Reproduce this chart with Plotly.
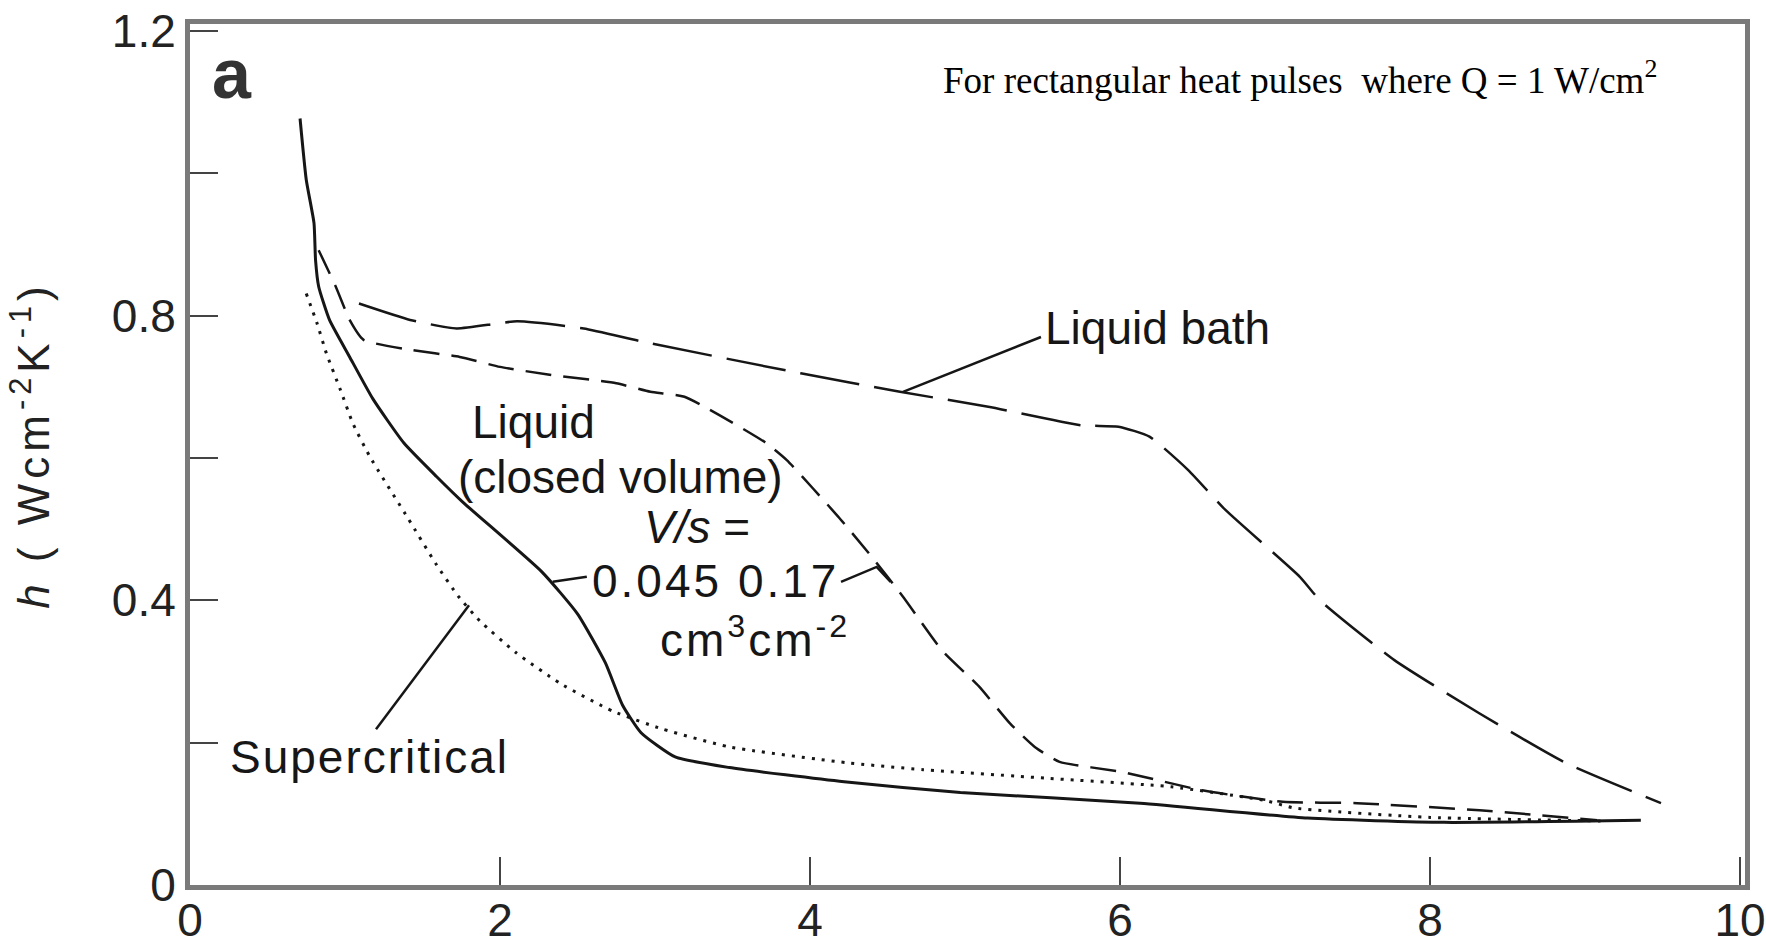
import plotly.graph_objects as go

# ---- data ----
# Liquid, closed volume, V/s = 0.045 (solid)
x_v045 = [0.71, 0.75, 0.80, 0.81, 0.83, 0.90, 1.03, 1.18, 1.38, 1.59, 1.76, 2.27, 2.50, 2.68,
          2.79, 2.91, 3.13, 3.48, 4.22, 4.97, 6.13, 7.21, 8.09, 9.36]
y_v045 = [1.077, 0.991, 0.930, 0.878, 0.841, 0.794, 0.742, 0.683, 0.621, 0.574, 0.538, 0.440,
          0.381, 0.312, 0.253, 0.214, 0.180, 0.165, 0.145, 0.130, 0.115, 0.094, 0.088, 0.091]

# Supercritical (dotted)
x_super = [0.75, 0.82, 0.88, 0.97, 1.05, 1.16, 1.41, 1.59, 1.73, 1.87, 2.10, 2.39, 2.73,
           3.05, 3.48, 4.23, 4.73, 5.53, 6.33, 6.93, 7.13, 8.00, 9.10]
y_super = [0.831, 0.789, 0.747, 0.696, 0.649, 0.602, 0.514, 0.450, 0.406, 0.371, 0.327,
           0.283, 0.244, 0.219, 0.194, 0.172, 0.162, 0.150, 0.138, 0.119, 0.108, 0.095, 0.090]

# Liquid, closed volume, V/s = 0.17 (dashed)
x_v017 = [0.83, 0.94, 1.03, 1.12, 1.42, 1.74, 2.00, 2.32, 2.75, 2.97, 3.19, 3.71, 3.85,
          4.18, 4.38, 4.60, 4.85, 5.09, 5.29, 5.45, 5.61, 6.01, 6.53, 7.05, 7.53, 8.32, 9.08]
y_v017 = [0.892, 0.841, 0.794, 0.766, 0.752, 0.742, 0.728, 0.717, 0.705, 0.693, 0.686, 0.622,
          0.597, 0.518, 0.466, 0.405, 0.330, 0.279, 0.227, 0.194, 0.173, 0.159, 0.133,
          0.117, 0.115, 0.105, 0.091]

# Liquid bath (long dashes)
x_bath = [1.09, 1.42, 1.72, 2.11, 2.54, 2.93, 3.94, 4.58, 5.15, 5.75, 5.99, 6.19, 6.44, 6.68,
          7.16, 7.29, 7.77, 8.32, 8.88, 9.49]
y_bath = [0.817, 0.794, 0.782, 0.792, 0.782, 0.763, 0.719, 0.693, 0.672, 0.646, 0.644, 0.630,
          0.583, 0.527, 0.433, 0.400, 0.316, 0.241, 0.171, 0.115]

# leader lines (label -> curve)
lead_bath_x = [5.49, 4.60]
lead_bath_y = [0.770, 0.693]
lead_super_x = [1.20, 1.80]
lead_super_y = [0.219, 0.393]
lead_045_x = [2.34, 2.56]
lead_045_y = [0.426, 0.433]
lead_017_x = [4.20, 4.43, 4.52]
lead_017_y = [0.426, 0.447, 0.426]

x_ticks = [0, 2, 4, 6, 8, 10]
x_ticktext = ["0", "2", "4", "6", "8", "10"]
y_ticks = [0, 0.2, 0.4, 0.6, 0.8, 1.0, 1.2]
y_ticktext = ["0", "", "0.4", "", "0.8", "", "1.2"]

SANS = "Liberation Sans, Arial, sans-serif"
SERIF = "Liberation Serif, Times New Roman, serif"
INK = "#161616"


def spaced(txt, px):
    return f'<span style="letter-spacing:{px}px">{txt}</span>'


fig = go.Figure()

curve_style = dict(shape="spline", smoothing=0.5)
fig.add_trace(go.Scatter(x=x_bath, y=y_bath, mode="lines",
                         line=dict(color=INK, width=2.5, dash="60px,15px", **curve_style),
                         name="Liquid bath"))
fig.add_trace(go.Scatter(x=x_v017, y=y_v017, mode="lines",
                         line=dict(color=INK, width=2.5, dash="26px,12px", **curve_style),
                         name="V/s = 0.17"))
fig.add_trace(go.Scatter(x=x_super, y=y_super, mode="lines",
                         line=dict(color=INK, width=3, dash="3px,7px", **curve_style),
                         name="Supercritical"))
fig.add_trace(go.Scatter(x=x_v045, y=y_v045, mode="lines",
                         line=dict(color=INK, width=3, **curve_style), name="V/s = 0.045"))

for lx, ly in [(lead_bath_x, lead_bath_y), (lead_super_x, lead_super_y),
               (lead_045_x, lead_045_y), (lead_017_x, lead_017_y)]:
    fig.add_trace(go.Scatter(x=lx, y=ly, mode="lines", line=dict(color=INK, width=2.5),
                             hoverinfo="skip"))

lab = dict(family=SANS, size=46, color=INK)
annotations = [
    dict(x=0.27, y=1.14, text="<b>a</b>", font=dict(family=SANS, size=70, color="#333")),
    dict(x=4.845, y=1.134, text="For rectangular heat pulses  where Q = 1 W/cm<sup>2</sup>",
         xanchor="left", font=dict(family=SERIF, size=37, color="#000")),
    dict(x=6.24, y=0.783, text="Liquid bath", font=lab),
    dict(x=2.213, y=0.651, text="Liquid", font=lab),
    dict(x=2.78, y=0.573, text="(closed volume)", font=lab),
    dict(x=3.27, y=0.503, text="<i>V/s</i> =", font=lab),
    dict(x=3.39, y=0.427, text=spaced("0.045 0.17", 3), font=lab),
    dict(x=3.645, y=0.348, text=spaced("cm<sup>3</sup>cm<sup>-2</sup>", 3), font=lab),
    dict(x=1.16, y=0.180, text=spaced("Supercritical", 2), font=lab),
]
for a in annotations:
    a.setdefault("xanchor", "center")
    a.update(xref="x", yref="y", yanchor="middle", showarrow=False)
annotations.append(dict(x=-0.103, y=0.511, xref="paper", yref="paper", showarrow=False,
                        textangle=-90, xanchor="center", yanchor="middle",
                        text=spaced("<i>h</i> ( Wcm<sup>-2</sup>K<sup>-1</sup>)", 5),
                        font=dict(family=SANS, size=44, color="#222")))

axis_common = dict(showline=True, linecolor="#7a7a7a", linewidth=5, mirror=True,
                   ticks="inside", ticklen=28, tickwidth=2, tickcolor="#444",
                   showgrid=False, zeroline=False, automargin=False,
                   tickfont=dict(family=SANS, size=46, color="#222"))

fig.update_layout(
    width=1766, height=945, autosize=False,
    margin=dict(l=190, r=21, t=24, b=60),
    paper_bgcolor="white", plot_bgcolor="white",
    showlegend=False,
    xaxis=dict(range=[0, 10.032], tickvals=x_ticks, ticktext=x_ticktext,
               ticklabelstandoff=-9, **axis_common),
    yaxis=dict(range=[0, 1.2098], tickvals=y_ticks, ticktext=y_ticktext, **axis_common),
    annotations=annotations,
)

fig.write_html("out.html", config={"displayModeBar": False},
               post_script="document.body.style.margin='0';document.body.style.overflow='hidden';")
